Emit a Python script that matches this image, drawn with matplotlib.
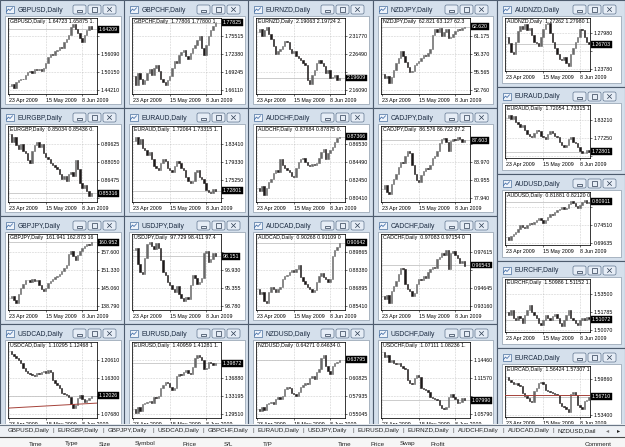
import matplotlib.pyplot as plt
import matplotlib.transforms as mtransforms
from matplotlib.patches import Rectangle, FancyBboxPatch

plt.rcParams['font.family'] = ['Liberation Sans', 'DejaVu Sans']

W, H = 625, 447

# x axis of every chart (bar index of the dates)
date_idx = [0, 16, 32]
date_labels = ['23 Apr 2009', '15 May 2009', '8 Jun 2009']

# ---- daily closes, header quotes, price scale labels and last price ----
gbpusd_close = [1.455, 1.462, 1.450, 1.468, 1.475, 1.480, 1.478, 1.492, 1.500, 1.505, 1.498, 1.510,
                1.508, 1.512, 1.505, 1.515, 1.530, 1.552, 1.560, 1.557, 1.570, 1.575, 1.585, 1.580,
                1.600, 1.610, 1.625, 1.650, 1.660, 1.645, 1.630, 1.615, 1.600, 1.625, 1.640, 1.655, 1.642]
gbpusd_head = '1.64723 1.65875 1.'
gbpusd_ticks = ['1.44210', '1.50150', '1.56090', '1.62030']
gbpusd_last = '1.64209'

gbpchf_close = [1.685, 1.670, 1.690, 1.680, 1.672, 1.678, 1.690, 1.698, 1.688, 1.700, 1.705, 1.695,
                1.680, 1.675, 1.670, 1.678, 1.685, 1.700, 1.712, 1.708, 1.722, 1.728, 1.730, 1.720,
                1.715, 1.725, 1.735, 1.740, 1.748, 1.755, 1.735, 1.722, 1.740, 1.755, 1.765, 1.772, 1.778]
gbpchf_head = '1.77806 1.77800 1.'
gbpchf_ticks = ['1.66110', '1.69245', '1.72380', '1.75515']
gbpchf_last = '1.77825'

eurnzd_close = [2.330, 2.340, 2.320, 2.335, 2.345, 2.325, 2.310, 2.290, 2.265, 2.275, 2.280, 2.290,
                2.305, 2.300, 2.280, 2.270, 2.275, 2.260, 2.255, 2.250, 2.240, 2.235, 2.190, 2.180,
                2.205, 2.220, 2.240, 2.250, 2.240, 2.230, 2.210, 2.220, 2.195, 2.200, 2.205, 2.190, 2.196]
eurnzd_head = '2.19063 2.19724 2.'
eurnzd_ticks = ['2.16090', '2.21350', '2.26490', '2.31770']
eurnzd_last = '2.19609'

nzdjpy_close = [55.2, 54.6, 55.0, 53.8, 54.8, 55.9, 57.0, 57.8, 58.8, 58.0, 57.2, 56.4,
                55.6, 55.8, 56.6, 57.0, 57.3, 57.8, 58.2, 58.0, 58.6, 59.2, 61.3, 62.2,
                61.8, 62.5, 61.2, 61.8, 62.3, 60.8, 61.0, 61.5, 62.0, 62.3, 62.1, 62.4, 62.62]
nzdjpy_head = '62.821 63.127 62.3'
nzdjpy_ticks = ['52.760', '55.565', '58.370', '61.175']
nzdjpy_last = '62.620'

audnzd_close = [1.275, 1.268, 1.258, 1.255, 1.270, 1.282, 1.288, 1.285, 1.290, 1.284, 1.286, 1.278,
                1.270, 1.268, 1.265, 1.275, 1.285, 1.290, 1.292, 1.280, 1.270, 1.262, 1.255, 1.250,
                1.248, 1.252, 1.245, 1.242, 1.255, 1.262, 1.270, 1.275, 1.285, 1.283, 1.275, 1.270, 1.267]
audnzd_head = '1.27262 1.27980 1.'
audnzd_ticks = ['1.23780', '1.25880', '1.27980']
audnzd_last = '1.26703'

eurgbp_close = [0.905, 0.898, 0.902, 0.895, 0.892, 0.896, 0.890, 0.888, 0.882, 0.880, 0.890, 0.895,
                0.898, 0.894, 0.896, 0.888, 0.885, 0.883, 0.880, 0.878, 0.876, 0.874, 0.870, 0.866,
                0.868, 0.864, 0.870, 0.872, 0.868, 0.882, 0.874, 0.862, 0.858, 0.860, 0.855, 0.851, 0.853]
eurgbp_head = '0.85034 0.85436 0.'
eurgbp_ticks = ['0.84900', '0.86475', '0.88050', '0.89625']
eurgbp_last = '0.85316'

euraud_close = [1.840, 1.850, 1.835, 1.845, 1.825, 1.820, 1.810, 1.815, 1.800, 1.785, 1.780, 1.775,
                1.790, 1.800, 1.795, 1.780, 1.775, 1.770, 1.785, 1.795, 1.790, 1.780, 1.775, 1.760,
                1.750, 1.745, 1.750, 1.770, 1.775, 1.760, 1.755, 1.745, 1.730, 1.725, 1.722, 1.732, 1.728]
euraud_head = '1.72064 1.73315 1.'
euraud_ticks = ['1.71170', '1.75250', '1.79330', '1.83410']
euraud_last = '1.72801'

audchf_close = [0.815, 0.812, 0.818, 0.808, 0.815, 0.822, 0.826, 0.832, 0.836, 0.834, 0.848, 0.842,
                0.838, 0.836, 0.834, 0.829, 0.828, 0.838, 0.845, 0.848, 0.850, 0.845, 0.842, 0.840,
                0.843, 0.841, 0.844, 0.850, 0.856, 0.860, 0.848, 0.855, 0.858, 0.862, 0.868, 0.872, 0.8737]
audchf_head = '0.87684 0.87875 0.'
audchf_ticks = ['0.80410', '0.82450', '0.84490', '0.86530']
audchf_last = '0.87366'

cadjpy_close = [79.5, 80.2, 79.0, 78.6, 80.3, 81.2, 82.0, 83.2, 84.0, 83.8, 85.0, 85.8,
                85.5, 83.5, 82.0, 81.0, 80.6, 81.8, 82.5, 83.0, 82.8, 83.5, 84.6, 85.0,
                85.8, 87.2, 87.8, 88.0, 87.4, 85.8, 87.5, 87.9, 87.6, 88.1, 87.8, 87.4, 87.6]
cadjpy_head = '86.576 86.722 87.2'
cadjpy_ticks = ['77.940', '80.955', '83.970', '86.985']
cadjpy_last = '87.603'

euraud2_head = '1.72054 1.73315 1.'
euraud2_ticks = ['1.71290', '1.77250', '1.83210']

gbpjpy_close = [141.5, 142.3, 141.0, 139.8, 143.0, 145.2, 146.5, 147.8, 148.0, 147.2, 148.3, 147.6,
                147.9, 146.0, 144.8, 144.2, 145.0, 146.8, 147.5, 148.2, 148.8, 149.3, 150.1, 151.0,
                152.2, 153.0, 157.0, 158.0, 156.2, 155.0, 156.5, 157.8, 158.9, 159.8, 160.5, 160.2, 160.95]
gbpjpy_head = '161.941 162.873 16'
gbpjpy_ticks = ['138.790', '145.060', '151.330', '157.600']
gbpjpy_last = '160.952'

usdjpy_close = [98.7, 98.9, 97.5, 96.8, 96.6, 98.0, 99.2, 99.4, 99.0, 98.8, 99.3, 98.9,
                97.8, 96.8, 96.5, 95.9, 95.6, 95.3, 95.0, 95.5, 94.8, 94.5, 94.2, 94.6,
                94.4, 95.6, 96.5, 96.2, 95.7, 95.9, 96.2, 98.4, 98.6, 97.6, 97.9, 98.4, 98.15]
usdjpy_head = '97.729 98.411 97.4'
usdjpy_ticks = ['93.780', '95.355', '96.930', '98.505']
usdjpy_last = '98.151'

audcad_close = [0.868, 0.864, 0.866, 0.858, 0.857, 0.866, 0.870, 0.868, 0.866, 0.868, 0.870, 0.876,
                0.879, 0.880, 0.882, 0.884, 0.882, 0.885, 0.888, 0.878, 0.875, 0.872, 0.870, 0.868,
                0.866, 0.867, 0.874, 0.879, 0.881, 0.878, 0.876, 0.874, 0.876, 0.895, 0.900, 0.903, 0.906]
audcad_head = '0.90268 0.91109 0'
audcad_ticks = ['0.85410', '0.86895', '0.88380', '0.89865']
audcad_last = '0.90642'

cadchf_close = [0.940, 0.937, 0.941, 0.934, 0.944, 0.948, 0.952, 0.958, 0.963, 0.962, 0.950, 0.946,
                0.944, 0.940, 0.942, 0.950, 0.954, 0.953, 0.956, 0.955, 0.960, 0.962, 0.964, 0.963,
                0.970, 0.972, 0.975, 0.974, 0.978, 0.962, 0.975, 0.977, 0.974, 0.971, 0.967, 0.969, 0.965]
cadchf_head = '0.97083 0.97154 0'
cadchf_ticks = ['0.93160', '0.94645', '0.96130', '0.97615']
cadchf_last = '0.96543'

audusd_close = [0.712, 0.705, 0.715, 0.720, 0.728, 0.735, 0.745, 0.740, 0.738, 0.745, 0.752, 0.748,
                0.755, 0.760, 0.765, 0.758, 0.752, 0.760, 0.768, 0.775, 0.772, 0.780, 0.785, 0.790,
                0.795, 0.788, 0.792, 0.802, 0.810, 0.805, 0.798, 0.792, 0.800, 0.808, 0.812, 0.806, 0.809]
audusd_head = '0.81881 0.82120 0.'
audusd_ticks = ['0.69635', '0.74510', '0.79385']
audusd_last = '0.80911'

usdcad_close = [1.228, 1.220, 1.215, 1.212, 1.205, 1.198, 1.188, 1.180, 1.176, 1.172, 1.170, 1.168,
                1.175, 1.172, 1.178, 1.180, 1.176, 1.182, 1.178, 1.158, 1.150, 1.146, 1.140, 1.128,
                1.125, 1.122, 1.118, 1.100, 1.092, 1.098, 1.115, 1.122, 1.112, 1.106, 1.110, 1.115, 1.120]
usdcad_head = '1.10295 1.12468 1'
usdcad_ticks = ['1.07680', '1.11990', '1.16300', '1.20610']
usdcad_last = '1.12026'
usdcad_trend = [1.091, 1.103]

eurusd_close = [1.305, 1.298, 1.310, 1.302, 1.315, 1.318, 1.320, 1.322, 1.318, 1.330, 1.328, 1.332,
                1.348, 1.355, 1.360, 1.358, 1.350, 1.345, 1.348, 1.372, 1.378, 1.375, 1.382, 1.385,
                1.380, 1.378, 1.392, 1.410, 1.415, 1.412, 1.405, 1.388, 1.390, 1.402, 1.400, 1.395, 1.399]
eurusd_head = '1.40959 1.41281 1.'
eurusd_ticks = ['1.29510', '1.33195', '1.36880', '1.40565']
eurusd_last = '1.39872'

nzdusd_close = [0.558, 0.555, 0.562, 0.557, 0.566, 0.568, 0.570, 0.566, 0.575, 0.578, 0.574, 0.580,
                0.590, 0.594, 0.592, 0.585, 0.583, 0.580, 0.586, 0.594, 0.597, 0.600, 0.598, 0.608,
                0.612, 0.606, 0.618, 0.622, 0.640, 0.645, 0.628, 0.620, 0.615, 0.628, 0.632, 0.634, 0.638]
nzdusd_head = '0.64271 0.64634 0.'
nzdusd_ticks = ['0.55045', '0.57935', '0.60825', '0.63715']
nzdusd_last = '0.63795'

usdchf_close = [1.158, 1.150, 1.152, 1.142, 1.145, 1.140, 1.138, 1.140, 1.135, 1.132, 1.130, 1.112,
                1.108, 1.106, 1.115, 1.120, 1.118, 1.100, 1.098, 1.096, 1.094, 1.086, 1.084, 1.082,
                1.080, 1.072, 1.068, 1.066, 1.070, 1.085, 1.090, 1.086, 1.082, 1.076, 1.078, 1.083, 1.080]
usdchf_head = '1.07111 1.08236 1.'
usdchf_ticks = ['1.05790', '1.08680', '1.11570', '1.14460']
usdchf_last = '1.07990'

eurchf_close = [1.518, 1.515, 1.520, 1.512, 1.510, 1.514, 1.512, 1.508, 1.515, 1.520, 1.525, 1.518,
                1.515, 1.512, 1.508, 1.506, 1.510, 1.515, 1.512, 1.510, 1.514, 1.516, 1.512, 1.508,
                1.505, 1.510, 1.515, 1.520, 1.512, 1.510, 1.508, 1.506, 1.510, 1.512, 1.510, 1.513, 1.511]
eurchf_head = '1.50986 1.51152 1.'
eurchf_ticks = ['1.50070', '1.51785', '1.53500']
eurchf_last = '1.51072'

eurcad_close = [1.602, 1.598, 1.594, 1.590, 1.592, 1.588, 1.586, 1.574, 1.568, 1.564, 1.560, 1.558,
                1.578, 1.582, 1.592, 1.594, 1.590, 1.580, 1.577, 1.575, 1.574, 1.572, 1.570, 1.555,
                1.550, 1.548, 1.545, 1.540, 1.572, 1.576, 1.570, 1.552, 1.548, 1.545, 1.560, 1.562, 1.567]
eurcad_head = '1.56424 1.57307 1.'
eurcad_ticks = ['1.53400', '1.56630', '1.59860']
eurcad_last = '1.56710'
eurcad_level = 1.571

tab_names = ['GBPUSD,Daily', 'EURGBP,Daily', 'GBPJPY,Daily', 'USDCAD,Daily', 'GBPCHF,Daily',
             'EURAUD,Daily', 'USDJPY,Daily', 'EURUSD,Daily', 'EURNZD,Daily', 'AUDCHF,Daily',
             'AUDCAD,Daily', 'NZDUSD,Dail']
terminal_cols = ['Time', 'Type', 'Size', 'Symbol', 'Price', 'S/L', 'T/P',
                 'Time', 'Price', 'Swap', 'Profit', 'Comment']

# ---- colours ----
FRAME = '#d5e0ec'
EDGE = '#4e5c6e'
TITLE = '#1b2a40'
BTN = '#e6edf6'
BTN_EDGE = '#60758f'
UP = '#6a6a6a'
DOWN = '#1e1a1a'
FS = 3.8

fig = plt.figure(figsize=(W / 100, H / 100), dpi=100)
fig.patch.set_facecolor('#a9b4c0')
bg = fig.add_axes([0, 0, 1, 1], zorder=0)
bg.set_xlim(0, W)
bg.set_ylim(H, 0)
bg.axis('off')


def window(x, y, w, h, title):
    bg.add_patch(Rectangle((x, y), w, h, fc=FRAME, ec=EDGE, lw=0.8))
    bg.add_patch(Rectangle((x + 5, y + 16), w - 9, h - 20, fc='white', ec='#8e9cad', lw=0.5))
    # little chart icon
    bg.add_patch(Rectangle((x + 5.5, y + 6), 8, 7, fc='#eef3fa', ec='#4a6f9e', lw=0.5))
    bg.plot([x + 6.5, x + 8.5, x + 10, x + 12.5], [y + 11.5, y + 9, y + 10.5, y + 7.8],
            color='#2f5f9f', lw=0.5)
    bg.text(x + 17.5, y + 10, title, fontsize=4.9, color=TITLE, va='center', ha='left')
    for k, bx in enumerate([x + w - 52, x + w - 37, x + w - 22]):
        bg.add_patch(FancyBboxPatch((bx, y + 5), 13, 9, boxstyle='round,pad=0,rounding_size=1.8',
                                    fc=BTN, ec=BTN_EDGE, lw=0.5))
        if k == 0:
            bg.add_patch(Rectangle((bx + 4, y + 10), 5, 1.5, fc='none', ec='#2a3a50', lw=0.5))
        elif k == 1:
            bg.add_patch(Rectangle((bx + 4, y + 7), 5, 5, fc='none', ec='#2a3a50', lw=0.5))
        else:
            bg.plot([bx + 4.5, bx + 8.5], [y + 7.5, y + 11.5], color='#2a3a50', lw=0.5)
            bg.plot([bx + 4.5, bx + 8.5], [y + 11.5, y + 7.5], color='#2a3a50', lw=0.5)


def chart(x, y, fw, fh, name, closes, head, ticks, last, right=False, level=None, trend=None):
    ax = fig.add_axes([x / W, 1 - (y + fh) / H, fw / W, fh / H], zorder=1)
    vals = [float(t) for t in ticks]
    step = vals[1] - vals[0]
    if right:
        lo = vals[0] - 0.1 * step
        ax.set_xlim(-0.6, 36.4)
    else:
        lo = vals[0] - 0.22 * step
        ax.set_xlim(-0.6, 38.5)
    ax.set_ylim(lo, lo + fh / 18.0 * step)

    opens = [closes[0]] + closes[:-1]
    idx = list(range(len(closes)))
    heights = [c - o for o, c in zip(opens, closes)]
    cols = [UP if c >= o else DOWN for o, c in zip(opens, closes)]
    ax.bar(idx, heights, bottom=opens, width=0.62, color=cols, edgecolor=cols, linewidth=0.4, zorder=3)

    # bid line and extra lines
    ax.axhline(float(last), color='#c4c4c4', lw=0.6, zorder=2)
    if level is not None:
        ax.axhline(level, color='#a5423a', lw=0.7, zorder=4)
    if trend is not None:
        ax.plot([-0.6, ax.get_xlim()[1]], trend, color='#a5423a', lw=0.7, zorder=4)

    # the last-price box hides the scale label right under it
    shown = [t if abs(v - float(last)) > 0.4 * step else '' for t, v in zip(ticks, vals)]
    ax.set_yticks(vals)
    ax.set_yticklabels(shown)
    ax.yaxis.tick_right()
    ax.set_xticks(date_idx)
    ax.set_xticklabels(date_labels)
    for lbl in ax.get_xticklabels():
        lbl.set_ha('left')
    ax.tick_params(axis='both', length=1.5, width=0.4, pad=1.2, labelsize=FS, colors='black')
    ax.grid(True, color='#b5b5b5', linestyle=(0, (1, 1.5)), linewidth=0.45, zorder=1)
    ax.set_axisbelow(True)
    for sp in ax.spines.values():
        sp.set_linewidth(0.55)
        sp.set_color('black')

    ax.text(0.025, 0.985, f'{name},Daily  {head}', transform=ax.transAxes, fontsize=FS,
            va='top', ha='left', clip_on=True, zorder=5)
    tr = mtransforms.blended_transform_factory(ax.transAxes, ax.transData)
    ax.text(1.02, float(last), last, transform=tr, fontsize=FS, color='white', va='center',
            ha='left', zorder=6, clip_on=False,
            bbox=dict(boxstyle='square,pad=0.18', fc='black', ec='black', lw=0.3))
    return ax


left_cols = [0, 124, 248, 373]
left_rows = [0, 108, 216, 324]
grid = [
    [('GBPUSD', gbpusd_close, gbpusd_head, gbpusd_ticks, gbpusd_last, None, None),
     ('GBPCHF', gbpchf_close, gbpchf_head, gbpchf_ticks, gbpchf_last, None, None),
     ('EURNZD', eurnzd_close, eurnzd_head, eurnzd_ticks, eurnzd_last, None, None),
     ('NZDJPY', nzdjpy_close, nzdjpy_head, nzdjpy_ticks, nzdjpy_last, None, None)],
    [('EURGBP', eurgbp_close, eurgbp_head, eurgbp_ticks, eurgbp_last, None, None),
     ('EURAUD', euraud_close, euraud_head, euraud_ticks, euraud_last, None, None),
     ('AUDCHF', audchf_close, audchf_head, audchf_ticks, audchf_last, None, None),
     ('CADJPY', cadjpy_close, cadjpy_head, cadjpy_ticks, cadjpy_last, None, None)],
    [('GBPJPY', gbpjpy_close, gbpjpy_head, gbpjpy_ticks, gbpjpy_last, None, None),
     ('USDJPY', usdjpy_close, usdjpy_head, usdjpy_ticks, usdjpy_last, None, None),
     ('AUDCAD', audcad_close, audcad_head, audcad_ticks, audcad_last, None, None),
     ('CADCHF', cadchf_close, cadchf_head, cadchf_ticks, cadchf_last, None, None)],
    [('USDCAD', usdcad_close, usdcad_head, usdcad_ticks, usdcad_last, None, usdcad_trend),
     ('EURUSD', eurusd_close, eurusd_head, eurusd_ticks, eurusd_last, None, None),
     ('NZDUSD', nzdusd_close, nzdusd_head, nzdusd_ticks, nzdusd_last, None, None),
     ('USDCHF', usdchf_close, usdchf_head, usdchf_ticks, usdchf_last, None, None)],
]
for r, row in enumerate(grid):
    for c, (name, closes, head, ticks, last, level, trend) in enumerate(row):
        x0, y0 = left_cols[c], left_rows[r]
        w = 125 if c < 3 else 124
        window(x0, y0, w, 108, f'{name},Daily')
        chart(x0 + 8, y0 + 18, 89, 76, name, closes, head, ticks, last, level=level, trend=trend)

right_rows = [0, 87, 174, 261, 348]
right_list = [
    ('AUDNZD', audnzd_close, audnzd_head, audnzd_ticks, audnzd_last, None),
    ('EURAUD', euraud_close, euraud2_head, euraud2_ticks, euraud_last, None),
    ('AUDUSD', audusd_close, audusd_head, audusd_ticks, audusd_last, None),
    ('EURCHF', eurchf_close, eurchf_head, eurchf_ticks, eurchf_last, None),
    ('EURCAD', eurcad_close, eurcad_head, eurcad_ticks, eurcad_last, eurcad_level),
]
for r, (name, closes, head, ticks, last, level) in enumerate(right_list):
    y0 = right_rows[r]
    window(497, y0, 128, 87, f'{name},Daily')
    fh = 53 if r < 4 else 51
    chart(505, y0 + 18, 85, fh, name, closes, head, ticks, last, right=True, level=level)

# ---- tab bar and terminal header on top ----
tb = fig.add_axes([0, 0, 1, 23 / H], zorder=5)
tb.set_xlim(0, W)
tb.set_ylim(H, H - 23)
tb.axis('off')
tb.add_patch(Rectangle((0, 424), W, 13, fc='#eef1f5', ec='none'))
tb.plot([0, W], [424.5, 424.5], color='#6b7786', lw=0.8)
tb.plot([0, W], [437, 437], color='#4a4a4a', lw=0.8)
tb.add_patch(Rectangle((0, 437.5), W, 10, fc='#f6f6f6', ec='none'))
for i, t in enumerate(tab_names):
    tx = 8 + i * 50
    tb.text(tx, 430.5, t, fontsize=4.5, va='center', ha='left', color='#222222')
    if i:
        tb.text(tx - 5, 430.5, '|', fontsize=4.5, va='center', ha='center', color='#555555')
tb.text(608, 430.5, '\u25c2', fontsize=4.5, va='center', ha='center', color='#777777')
tb.text(619, 430.5, '\u25b8', fontsize=4.5, va='center', ha='center', color='#222222')
col_x = [36, 72, 105, 145, 190, 228, 268, 345, 378, 408, 438, 598]
for t, cx in zip(terminal_cols, col_x):
    tb.text(cx, 441.5, t, fontsize=4.5, va='top', ha='center', color='#222222')

fig.savefig('out.png', dpi=100, facecolor=fig.get_facecolor())
